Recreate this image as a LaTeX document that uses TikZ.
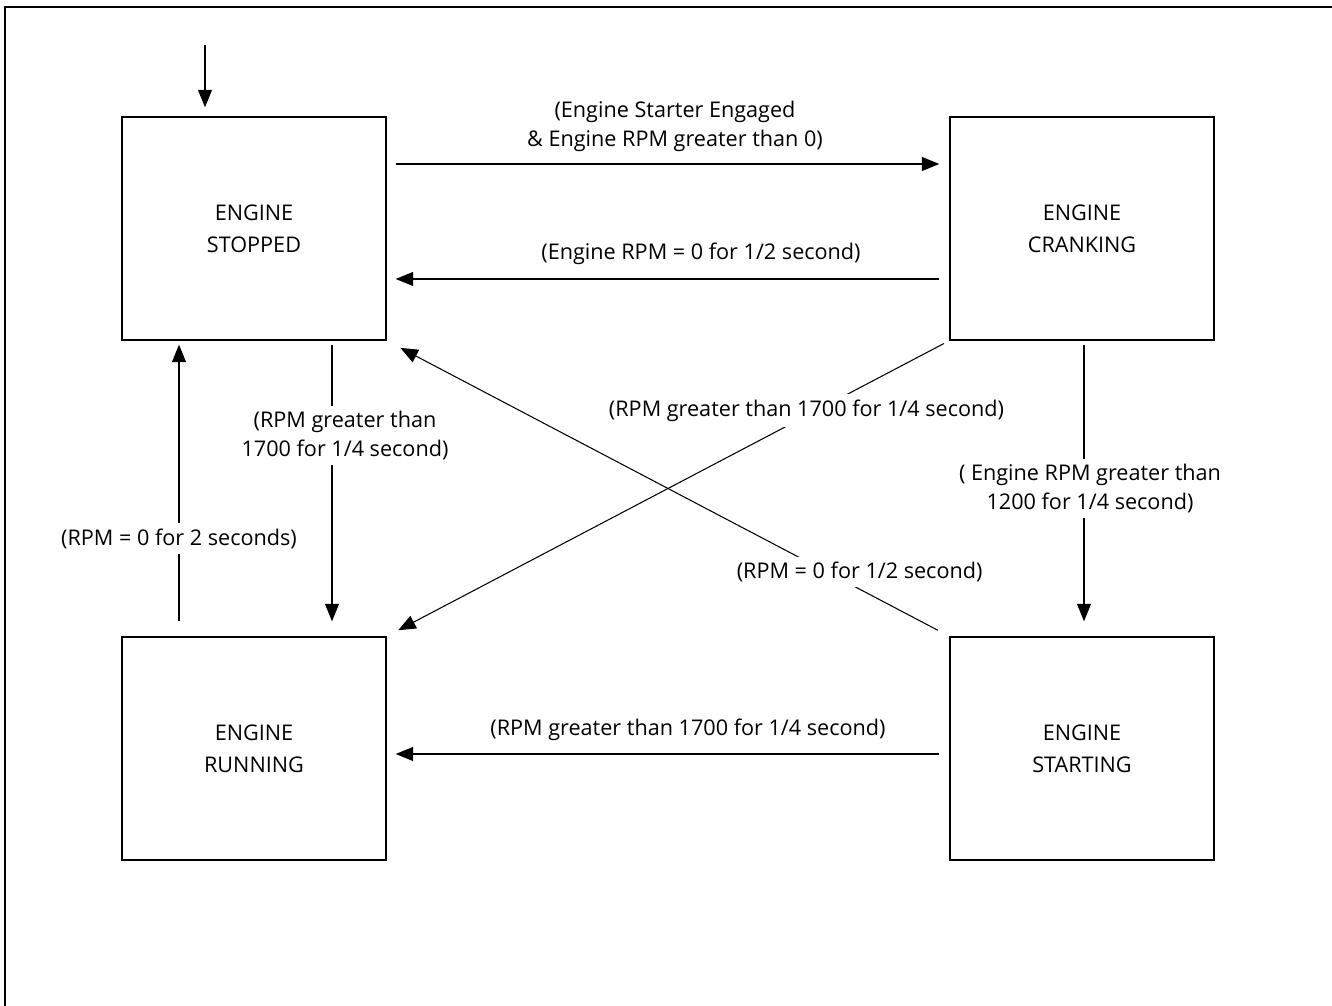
\documentclass[tikz,border=0pt]{standalone}
\usepackage{fontspec}
\setmainfont{Open Sans}
\usetikzlibrary{arrows.meta}

\begin{document}
\begin{tikzpicture}[
    state/.style={draw, line width=0.8pt, minimum width=5.28cm, minimum height=4.46cm,
        align=center, font=\fontsize{12.3}{18}\selectfont},
    arr/.style={-{Triangle[length=0.35cm,width=0.28cm]}, line width=0.6pt},
    lbl/.style={fill=white, align=center, inner sep=3pt, font=\fontsize{12.3}{16.5}\selectfont}
]

    % Page size and frame
    \useasboundingbox (0,0) rectangle (26.64,20.12);
    \draw[line width=1.3pt] (0.1,0) -- (0.1,19.98) -- (26.64,19.98);

    % Draw the states
    \node[state] (stopped)  at (5.08,15.55)  {ENGINE\\STOPPED};
    \node[state] (cranking) at (21.64,15.55) {ENGINE\\CRANKING};
    \node[state] (running)  at (5.08,5.15)   {ENGINE\\RUNNING};
    \node[state] (starting) at (21.64,5.15)  {ENGINE\\STARTING};

    % Initial arrow
    \coordinate (init) at (4.1,19.22);
    \draw[arr, shorten >=0.18cm] (init) -- (init |- stopped.north);

    % Stopped <-> cranking
    \draw[arr, shorten <=0.18cm, shorten >=0.2cm] ([yshift=1.29cm]stopped.east) -- ([yshift=1.29cm]cranking.west)
        node[lbl, midway, yshift=0.75cm, xshift=0.14cm] {(Engine Starter Engaged\\\& Engine RPM greater than 0)};
    \draw[arr, shorten <=0.2cm, shorten >=0.18cm] ([yshift=-1.01cm]cranking.west) -- ([yshift=-1.01cm]stopped.east)
        node[lbl, midway, yshift=0.5cm, xshift=0.66cm] {(Engine RPM = 0 for 1/2 second)};

    % Stopped <-> running
    \draw[arr, shorten <=0.08cm, shorten >=0.3cm] ([xshift=1.56cm]stopped.south) -- ([xshift=1.56cm]running.north)
        node[lbl, pos=0.32, xshift=0.26cm] {(RPM greater than\\1700 for 1/4 second)};
    \draw[arr, shorten <=0.3cm, shorten >=0.08cm] ([xshift=-1.5cm]running.north) -- ([xshift=-1.5cm]stopped.south)
        node[lbl, pos=0.33] {(RPM = 0 for 2 seconds)};

    % Cranking -> starting
    \draw[arr, shorten <=0.08cm, shorten >=0.3cm] ([xshift=0.04cm]cranking.south) -- ([xshift=0.04cm]starting.north)
        node[lbl, pos=0.5, xshift=0.12cm] {( Engine RPM greater than\\1200 for 1/4 second)};

    % Diagonals
    \draw[arr, shorten <=0.12cm, shorten >=0.26cm] (cranking.south west) -- (running.north east)
        node[lbl, pos=0.236, xshift=-0.2cm] {(RPM greater than 1700 for 1/4 second)};
    \draw[arr, shorten <=0.26cm, shorten >=0.31cm] (starting.north west) -- (stopped.south east)
        node[lbl, pos=0.218, xshift=0.66cm] {(RPM = 0 for 1/2 second)};

    % Starting -> running
    \draw[arr, shorten <=0.2cm, shorten >=0.18cm] ([yshift=-0.11cm]starting.west) -- ([yshift=-0.11cm]running.east)
        node[lbl, midway, yshift=0.48cm, xshift=0.4cm] {(RPM greater than 1700 for 1/4 second)};

\end{tikzpicture}
\end{document}
